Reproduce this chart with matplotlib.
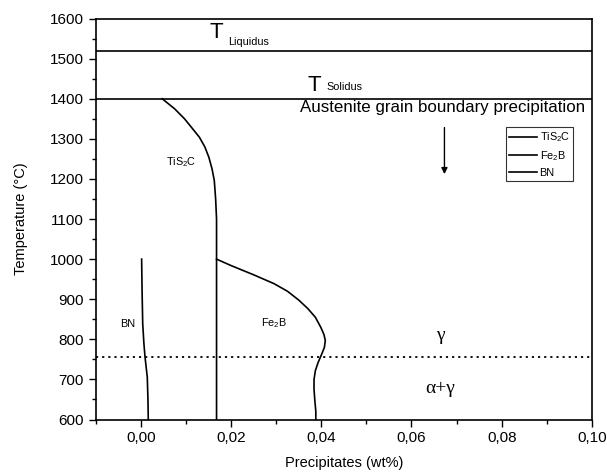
import matplotlib
matplotlib.use("Agg")
import matplotlib.pyplot as plt
from matplotlib.ticker import MultipleLocator, FuncFormatter

plt.rcParams['font.family'] = ['Liberation Sans', 'DejaVu Sans']
plt.rcParams['mathtext.fontset'] = 'custom'
plt.rcParams['mathtext.rm'] = 'Liberation Sans'

# precipitation curves (wt%, temperature)
tis2c_x = [0.00475, 0.0075, 0.0097, 0.0115, 0.0130, 0.0142, 0.0151, 0.0158,
           0.0163, 0.0166, 0.0168, 0.0168, 0.0168]
tis2c_t = [1400, 1375, 1350, 1325, 1304, 1280, 1254, 1225, 1196, 1150, 1100, 1000, 600]

fe2b_x = [0.0168, 0.0200, 0.0250, 0.0295, 0.0325, 0.0350, 0.0370, 0.0387, 0.0399,
          0.0406, 0.0409, 0.0407, 0.0401, 0.0393, 0.0387, 0.0384, 0.0384, 0.0386,
          0.0388, 0.0388]
fe2b_t = [1000, 984, 961, 939, 920, 898, 877, 855, 830, 812, 797, 780, 763, 742,
          722, 700, 675, 645, 620, 600]

bn_x = [0.0002, 0.0003, 0.00044, 0.0007, 0.00095, 0.00145, 0.0016, 0.00167]
bn_t = [1000, 920, 839, 790, 756, 706, 650, 600]

t_liquidus = 1520
t_solidus = 1400
t_alpha_gamma = 755

fig = plt.figure(figsize=(6.07, 4.75), dpi=100)
ax = fig.add_axes([0.1575, 0.1168, 0.8178, 0.8442])

lw = 1.2
ax.plot(tis2c_x, tis2c_t, color='black', lw=lw, label='TiS$_2$C')
ax.plot(fe2b_x, fe2b_t, color='black', lw=lw, label='Fe$_2$B')
ax.plot(bn_x, bn_t, color='black', lw=lw, label='BN')

ax.axhline(t_liquidus, color='black', lw=lw)
ax.axhline(t_solidus, color='black', lw=lw)
ax.axhline(t_alpha_gamma, color='black', lw=1.3, ls=(0, (1.2, 2.2)))

ax.set_xlim(-0.01, 0.10)
ax.set_ylim(600, 1600)

# annotations
ax.text(0.0167, 1566, 'T', fontsize=16, ha='center', va='center')
ax.text(0.0194, 1541, 'Liquidus', fontsize=7.8, ha='left', va='center')
ax.text(0.0385, 1433, 'T', fontsize=16, ha='center', va='center')
ax.text(0.0412, 1428, 'Solidus', fontsize=7.8, ha='left', va='center')
ax.text(0.0669, 1378, 'Austenite grain boundary precipitation', fontsize=12.2,
        ha='center', va='center')
ax.annotate('', xy=(0.0673, 1205), xytext=(0.0673, 1335),
            arrowprops=dict(arrowstyle='-|>', color='black', lw=1.0,
                            mutation_scale=9))
ax.text(0.0090, 1242, 'TiS$_2$C', fontsize=7.8, ha='center', va='center')
ax.text(0.0295, 840, 'Fe$_2$B', fontsize=7.8, ha='center', va='center')
ax.text(-0.0028, 837, 'BN', fontsize=7.8, ha='center', va='center')
ax.text(0.0664, 810, 'γ', fontsize=14, family='Liberation Serif',
        ha='center', va='center')
ax.text(0.0664, 677, 'α+γ', fontsize=14, family='Liberation Serif',
        ha='center', va='center')

leg = ax.legend(loc='upper right', bbox_to_anchor=(0.962, 0.729), fontsize=7.8,
                frameon=True, fancybox=False, edgecolor='black', handlelength=2.6,
                borderpad=0.3, labelspacing=0.45, handletextpad=0.2,
                borderaxespad=0)
leg.get_frame().set_linewidth(0.8)

ax.xaxis.set_major_locator(MultipleLocator(0.02))
ax.xaxis.set_minor_locator(MultipleLocator(0.01))
ax.yaxis.set_major_locator(MultipleLocator(100))
ax.yaxis.set_minor_locator(MultipleLocator(50))
ax.xaxis.set_major_formatter(FuncFormatter(lambda v, p: f'{v:.2f}'.replace('.', ',')))

ax.tick_params(which='major', direction='out', length=5, width=1.0, labelsize=11)
ax.tick_params(which='minor', direction='out', length=3, width=1.0)
for s in ax.spines.values():
    s.set_linewidth(1.2)

ax.set_xlabel('Precipitates (wt%)', fontsize=10.5, labelpad=8)
ax.set_ylabel('Temperature (°C)', fontsize=10.5, labelpad=16)

fig.savefig('out.png', dpi=100)
